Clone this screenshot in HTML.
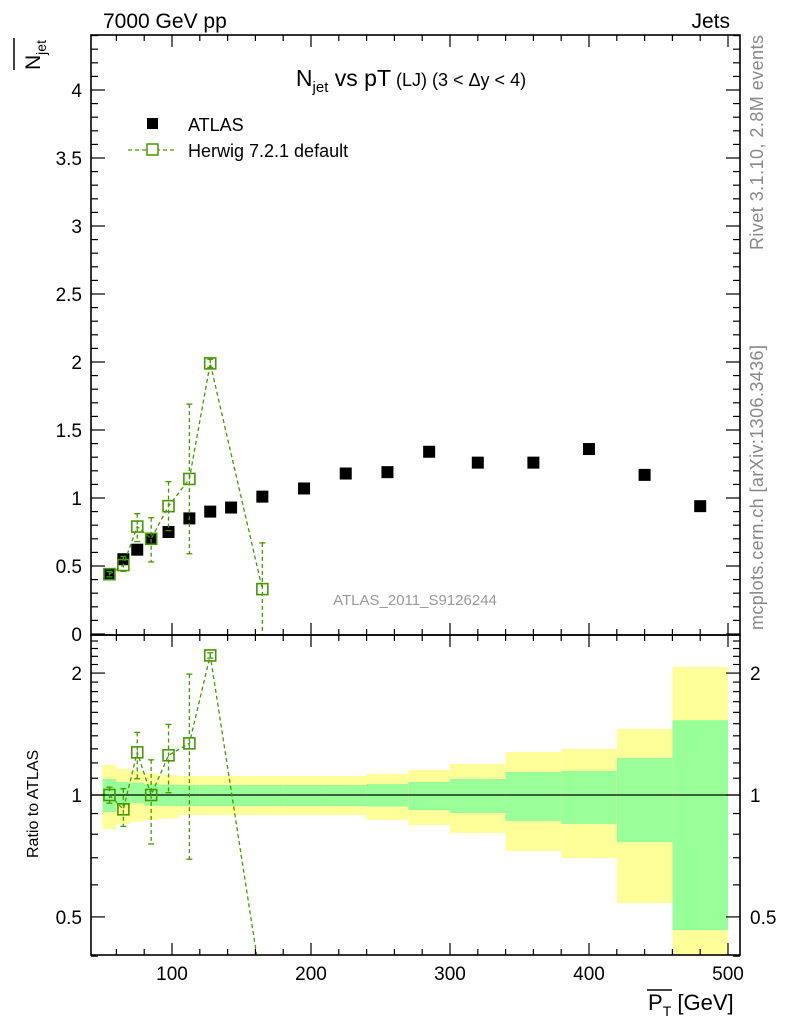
<!DOCTYPE html>
<html><head><meta charset="utf-8">
<style>
html,body{margin:0;padding:0;background:#fff;width:786px;height:1024px;overflow:hidden;}
svg{display:block;font-family:"Liberation Sans",sans-serif;}
</style></head>
<body>
<svg id="chart" width="786" height="1024" viewBox="0 0 786 1024">
<defs>
<clipPath id="clipMain"><rect x="91" y="35" width="649" height="600"/></clipPath>
<clipPath id="clipRatio"><rect x="91" y="635" width="649" height="320"/></clipPath>
</defs>
<g id="bands" clip-path="url(#clipRatio)"></g>
<g id="marks"></g>
<g id="axes"></g>
<text x="103" y="28" font-size="21">7000 GeV pp</text>
<text x="730" y="28" font-size="21" text-anchor="end">Jets</text>
<text x="411" y="86" font-size="23" text-anchor="middle">N<tspan font-size="15" dy="6">jet</tspan><tspan dy="-6"> vs pT</tspan><tspan font-size="18"> (LJ) (3 &lt; Δy &lt; 4)</tspan></text>
<g>
<rect x="147" y="118" width="11" height="11" fill="#000"/>
<text x="188" y="131" font-size="18">ATLAS</text>
<line x1="128" y1="150" x2="175" y2="150" stroke="#449900" stroke-width="1.2" stroke-dasharray="4,3"/>
<rect x="147" y="144" width="11" height="11" fill="#fff" stroke="#449900" stroke-width="1.5"/>
<text x="188" y="157" font-size="18">Herwig 7.2.1 default</text>
</g>
<text x="415" y="605" font-size="15" fill="#999" text-anchor="middle">ATLAS_2011_S9126244</text>
<text transform="translate(763,250) rotate(-90)" font-size="18" fill="#888" textLength="215">Rivet 3.1.10,  2.8M events</text>
<text transform="translate(763,630) rotate(-90)" font-size="18" fill="#888" textLength="285">mcplots.cern.ch [arXiv:1306.3436]</text>
<g>
<text transform="translate(40,70) rotate(-90)" font-size="21">N<tspan font-size="14" dy="6">jet</tspan></text>
<line x1="14" y1="38" x2="14" y2="70" stroke="#000" stroke-width="1.5"/>
</g>
<text transform="translate(38,858) rotate(-90)" font-size="16">Ratio to ATLAS</text>
<g>
<text x="648" y="1010" font-size="22">P<tspan font-size="14" dy="6">T</tspan><tspan dy="-6"> [GeV]</tspan></text>
<line x1="647" y1="990" x2="672" y2="990" stroke="#000" stroke-width="1.5"/>
</g>
</svg>
<script>
const binLo = [50,60,70,80,90,105,120,135,150,180,210,240,270,300,340,380,420,460];
const binHi = [60,70,80,90,105,120,135,150,180,210,240,270,300,340,380,420,460,500];
const atlasX = [55,65,75,85,97.5,112.5,127.5,142.5,165,195,225,255,285,320,360,400,440,480];
const atlasY = [0.44,0.55,0.62,0.70,0.75,0.85,0.90,0.93,1.01,1.07,1.18,1.19,1.34,1.26,1.26,1.36,1.17,0.94];
const bandInHi = [1.095,1.078,1.072,1.066,1.06,1.058,1.058,1.058,1.058,1.058,1.058,1.065,1.077,1.095,1.140,1.146,1.234,1.53];
const bandInLo = [0.908,0.944,0.954,0.941,0.94,0.939,0.939,0.939,0.939,0.939,0.939,0.936,0.918,0.903,0.863,0.848,0.765,0.464];
const bandOutHi = [1.186,1.16,1.146,1.131,1.12,1.114,1.114,1.114,1.114,1.114,1.114,1.129,1.153,1.193,1.277,1.299,1.455,2.07];
const bandOutLo = [0.824,0.848,0.859,0.868,0.875,0.893,0.893,0.893,0.893,0.893,0.893,0.868,0.843,0.806,0.727,0.699,0.541,0.38];
const mcX = [55,65,75,85,97.5,112.5,127.5,165];
const mcAtlasIdx = [0,1,2,3,4,5,6,8];
const mcY = [0.44,0.507,0.79,0.70,0.94,1.14,1.99,0.33];
const mcErrHi = [0.46,0.57,0.885,0.855,1.12,1.69,2.02,0.67];
const mcErrLo = [0.42,0.46,0.68,0.53,0.76,0.59,1.96,-0.2];
const xTicks = [100,200,300,400,500];
const yTicks = [0,0.5,1,1.5,2,2.5,3,3.5,4];
const yTickLabels = ["0","0.5","1","1.5","2","2.5","3","3.5","4"];
const rTicks = [0.5,1,2];
const rTickLabels = ["0.5","1","2"];

const NS="http://www.w3.org/2000/svg";
const X=v=>172+(v-100)*1.39;
const Y=v=>634-v*136;
const R=r=>795-Math.log10(r)*405;
const L=91,Rt=740,T=35,M=635,B=955;
const rMin=0.402,rMax=2.48;
function mk(tag,attrs,parent){const e=document.createElementNS(NS,tag);for(const k in attrs)e.setAttribute(k,attrs[k]);parent.appendChild(e);return e;}
const bands=document.getElementById('bands'),marks=document.getElementById('marks'),axes=document.getElementById('axes');

for(let i=0;i<binLo.length;i++){
  const y1=mk('rect',{x:X(binLo[i]),y:R(bandOutHi[i]),width:X(binHi[i])-X(binLo[i]),height:R(bandOutLo[i])-R(bandOutHi[i]),fill:'#ffff99'},bands);
  
  
  const g1=mk('rect',{x:X(binLo[i]),y:R(bandInHi[i]),width:X(binHi[i])-X(binLo[i]),height:R(bandInLo[i])-R(bandInHi[i]),fill:'#99ff99'},bands);
  
  
}
const one=mk('line',{x1:L,x2:Rt,y1:R(1),y2:R(1),stroke:'#000','stroke-width':1.3},marks);



for(let i=0;i<atlasX.length;i++){
  const r=mk('rect',{x:X(atlasX[i])-6,y:Y(atlasY[i])-6,width:12,height:12,fill:'#000'},marks);
  
  
}
const G='#449900';
function mcSeries(yf,vals,hi,lo,clip,nm,inRange){
  const g=mk('g',{'clip-path':'url(#'+clip+')'},marks);
  
  
  mk('polyline',{points:mcX.map((x,i)=>X(x)+','+yf(vals[i])).join(' '),fill:'none',stroke:G,'stroke-width':1.3,'stroke-dasharray':'4,3'},g);
  for(let i=0;i<mcX.length;i++){
    if(!inRange(vals[i])) continue;
    const x=X(mcX[i]);
    mk('line',{x1:x,x2:x,y1:yf(hi[i]),y2:yf(lo[i]),stroke:G,'stroke-width':1.3,'stroke-dasharray':'4,3'},g);
    mk('line',{x1:x-3,x2:x+3,y1:yf(hi[i]),y2:yf(hi[i]),stroke:G,'stroke-width':1.3},g);
    mk('line',{x1:x-3,x2:x+3,y1:yf(lo[i]),y2:yf(lo[i]),stroke:G,'stroke-width':1.3},g);
    const r=mk('rect',{x:x-5.5,y:yf(vals[i])-5.5,width:11,height:11,fill:'none',stroke:G,'stroke-width':1.6},g);
    
    
  }
}
mcSeries(Y,mcY,mcErrHi,mcErrLo,'clipMain','herwig-main-series',v=>true);
const rv=mcY.map((v,i)=>v/atlasY[mcAtlasIdx[i]]);
const rh=mcErrHi.map((v,i)=>Math.max(v,0.01)/atlasY[mcAtlasIdx[i]]);
const rl=mcErrLo.map((v,i)=>Math.max(v,0.01)/atlasY[mcAtlasIdx[i]]);
mcSeries(R,rv,rh,rl,'clipRatio','herwig-ratio-series',v=>v>=rMin&&v<=rMax);

for(const [y0,y1,nm] of [[T,M,'main-frame'],[M,B,'ratio-frame']]){
  const f=mk('rect',{x:L,y:y0,width:Rt-L,height:y1-y0,fill:'none',stroke:'#000','stroke-width':1.6},axes);
  
  
}
function tk(x1,y1,x2,y2){mk('line',{x1,y1,x2,y2,stroke:'#000','stroke-width':1.2},axes);}
for(let v=60;v<=500;v+=20){
  const major=xTicks.includes(v),x=X(v),l=major?12:6;
  for(const [yb,yt] of [[M,T],[B,M]]){tk(x,yb,x,yb-l);tk(x,yt,x,yt+l);}
}
xTicks.forEach(v=>{
  const t=mk('text',{x:X(v),y:980,'font-size':19,'text-anchor':'middle'},axes);
  t.textContent=v;
  
  
});
for(let k=0;k<=44;k++){
  const v=k/10,y=Y(v),major=k%5==0,l=major?14:7;
  tk(L,y,L+l,y);tk(Rt,y,Rt-l,y);
}
yTicks.forEach((v,i)=>{
  const t=mk('text',{x:82,y:Y(v)+7,'font-size':19,'text-anchor':'end'},axes);
  t.textContent=yTickLabels[i];
  
  
});
const minor=[0.4,0.6,0.7,0.8,0.9,1.1,1.2,1.3,1.4,1.5,1.6,1.7,1.8,1.9,2.1,2.2,2.3,2.4];
minor.forEach(r=>{const y=R(r);tk(L,y,L+7,y);tk(Rt,y,Rt-7,y);});
rTicks.forEach((r,i)=>{
  const y=R(r);tk(L,y,L+14,y);tk(Rt,y,Rt-14,y);
  const t=mk('text',{x:82,y:y+7,'font-size':19,'text-anchor':'end'},axes);
  t.textContent=rTickLabels[i];
  
  
  const t2=mk('text',{x:750,y:y+7,'font-size':19},axes);
  t2.textContent=rTickLabels[i];
  
  
});
</script>
</body></html>
